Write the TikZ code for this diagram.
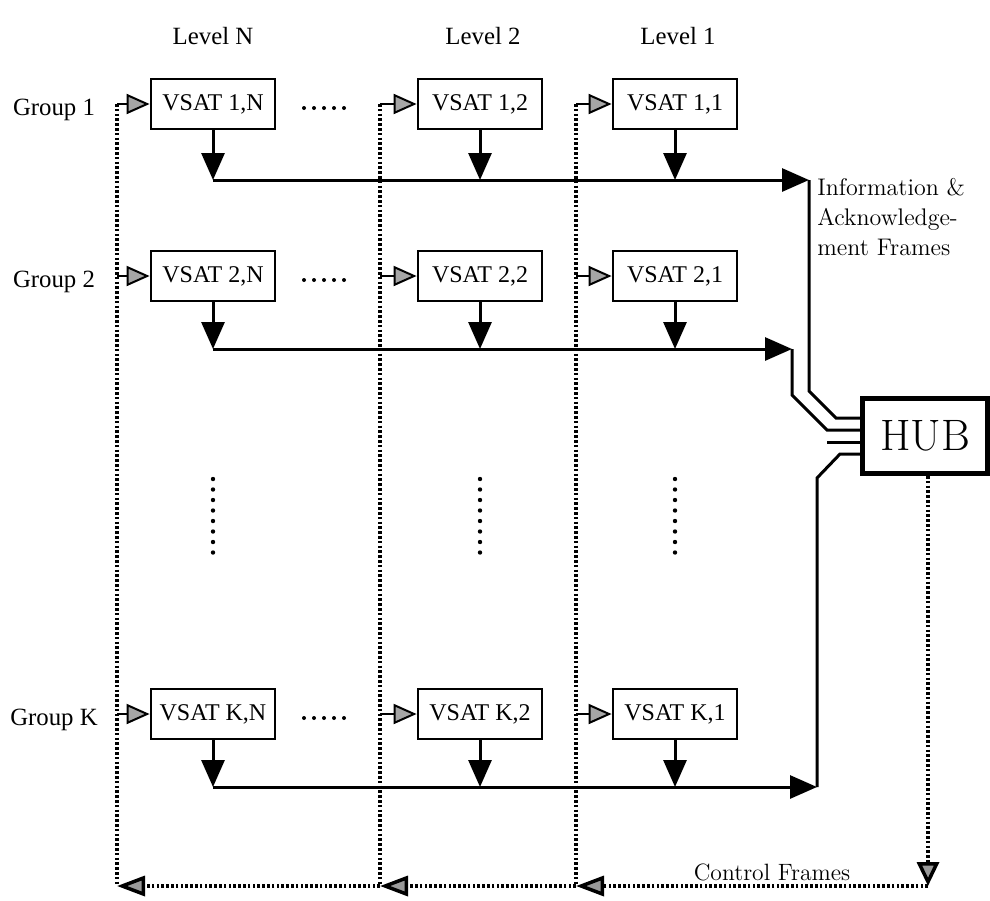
\documentclass[tikz,border=0pt]{standalone}
\usepackage{fontspec}
\newfontfamily\tms{Liberation Serif}
\usetikzlibrary{arrows.meta,calc}
\tikzset{
  gtip/.tip={Triangle[length=11.5pt,width=10pt,fill=gray!70]},
  btip/.tip={Triangle[length=14pt,width=10pt,fill=gray!80]},
  htip/.tip={Triangle[length=12pt,width=11pt,fill=gray!80]},
  stip/.tip={Triangle[length=13.5pt,width=11.5pt]},
  vbox/.style={draw,line width=1.4pt,minimum width=62pt,minimum height=25pt,inner sep=0pt,font=\tms\fontsize{12}{14}\selectfont},
  hubbox/.style={draw,line width=2.5pt,minimum width=62.5pt,minimum height=37.5pt,inner sep=0pt,font=\fontsize{22}{26}\selectfont},
  lbl/.style={inner sep=0pt,font=\tms\fontsize{12.4}{14}\selectfont},
  sline/.style={line width=1.5pt},
  sarr/.style={line width=1.5pt,-stip},
  inarr/.style={line width=1pt,-gtip},
  dotl/.style={line width=1.75pt,dash pattern=on 1.3pt off 1.1pt},
}
\begin{document}
\begin{tikzpicture}[x=0.5pt,y=-0.5pt]
\useasboundingbox (0,0) rectangle (990,900);
% level labels
\node[lbl,anchor=base] (LN) at (213,44) {Level N};
\node[lbl,anchor=base] (L2) at (483,44) {Level 2};
\node[lbl,anchor=base] (L1) at (678,44) {Level 1};
% group labels
\node[lbl,anchor=base] (G1) at (54,115) {Group 1};
\node[lbl,anchor=base] (G2) at (54,287) {Group 2};
\node[lbl,anchor=base] (GK) at (54,725) {Group K};
% boxes
\node[vbox] (v1N) at (213,104) {VSAT 1,N};
\node[vbox] (v12) at (480,104) {VSAT 1,2};
\node[vbox] (v11) at (675,104) {VSAT 1,1};
\node[vbox] (v2N) at (213,276) {VSAT 2,N};
\node[vbox] (v22) at (480,276) {VSAT 2,2};
\node[vbox] (v21) at (675,276) {VSAT 2,1};
\node[vbox] (vKN) at (213,714) {VSAT K,N};
\node[vbox] (vK2) at (480,714) {VSAT K,2};
\node[vbox] (vK1) at (675,714) {VSAT K,1};
% hub
\node[hubbox] (hub) at (925,436) {HUB};
% row dots
\foreach \yy in {104,276,714}{
  \foreach \k in {0,...,4}{\fill (304+10*\k,\yy+4) circle (1pt);}
}
% vertical ellipsis
\foreach \xx in {213,480,675}{
  \foreach \k in {0,...,7}{\fill (\xx,479+10.5*\k) circle (1.1pt);}
}
% coordinates
\coordinate (h1) at (809,180);
\coordinate (h2) at (792,349);
\coordinate (hK) at (817,787);
\coordinate (tN) at (117,104);
\coordinate (t2) at (380,104);
\coordinate (t1) at (576,104);
\coordinate (bN) at (117,886);
\coordinate (b2) at (380,886);
\coordinate (b1) at (576,886);
\coordinate (bH) at (928,886);
\coordinate (stub) at (827,442);
% dotted verticals
\draw[dotl] (tN) -- (bN);
\draw[dotl] (t2) -- (b2);
\draw[dotl] (t1) -- (b1);
% input arrows
\foreach \rw in {1,2,K}{
  \draw[inarr] (tN |- v\rw N) -- (v\rw N.west);
  \draw[inarr] (t2 |- v\rw 2) -- (v\rw 2.west);
  \draw[inarr] (t1 |- v\rw 1) -- (v\rw 1.west);
}
% down arrows and row lines
\foreach \rw in {1,2,K}{
  \foreach \lv in {N,2,1}{\draw[sarr] (v\rw\lv.south) -- (v\rw\lv.south |- h\rw);}
  \draw[sarr] (v\rw N.south |- h\rw) -- (h\rw);
}
% lines to hub
\draw[sline] (h1) -- (809,391) -- (836,418) -- ($(hub.west)+(0,-18)$);
\draw[sline] (h2) -- (792,395) -- (827,430) -- ($(hub.west)+(0,-6)$);
\draw[sline] (stub) -- ($(hub.west)+(0,6)$);
\draw[sline] (hK) -- (817,478) -- (840,454) -- ($(hub.west)+(0,18)$);
% control frames
\draw[dotl,-htip] (hub.south -| bH) -- (bH);
\draw[dotl,-btip] (bH) -- (b1);
\draw[dotl,-btip] (b1) -- (b2);
\draw[dotl,-btip] (b2) -- (bN);
% texts
\node[anchor=north west,inner sep=0pt,align=left,font=\fontsize{12}{15}\selectfont] (info) at (817,178) {Information \&\\Acknowledge-\\ment Frames};
\node[anchor=base,inner sep=0pt,font=\fontsize{11.8}{14}\selectfont] (ctrl) at (772,880) {Control Frames};
\end{tikzpicture}
\end{document}
